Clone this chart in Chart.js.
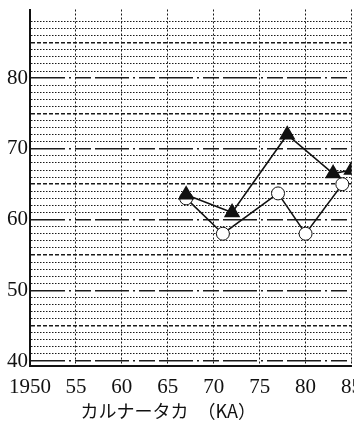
<!DOCTYPE html>
<html>
<head>
<meta charset="utf-8">
<script src="https://cdn.jsdelivr.net/npm/chart.js@4"></script>
<style>
html, body { margin: 0; padding: 0; background: #fff; overflow: hidden; }
#wrap { width: 361px; height: 427px; }
</style>
</head>
<body>
<div id="wrap"><canvas id="ka-chart" width="361" height="427"></canvas></div>
<script>
// values
const triangleYears = [1967, 1972, 1978, 1983, 1985]
const triangleValues = [63.5, 61, 72, 66.5, 67]
const circleYears = [1967, 1971, 1977, 1980, 1984]
const circleValues = [63, 58, 63.7, 58, 65]

const xTickYears = [1950, 1955, 1960, 1965, 1970, 1975, 1980, 1985]
const xTickLabels = ['1950', '55', '60', '65', '70', '75', '80', '85']
const yLabelValues = [40, 50, 60, 70, 80]
const yLabels = ['40', '50', '60', '70', '80']

const ka_chart = () => {
    const ctx = document.getElementById('ka-chart')
    const ink = '#111'
    const toPoints = (xs, ys) => xs.map((x, i) => ({ x: x, y: ys[i] }))

    // one gridline per unit, heavier every 5 and 10
    const yGrid = []
    for (let v = 40; v <= 88; v++) yGrid.push({ value: v })

    const gridDash = (c) => {
        if (!c.tick) return []
        const v = c.tick.value
        if (v % 10 === 0) return [34, 4, 2, 4, 16, 4]
        if (v % 5 === 0) return [4, 2]
        return [1.5, 1.5]
    }

    new Chart(ctx, {
        type: 'line',
        data: {
            datasets: [{
                data: toPoints(triangleYears, triangleValues),
                borderColor: ink,
                borderWidth: 1.5,
                pointStyle: 'triangle',
                pointRadius: 8,
                pointBackgroundColor: ink,
                pointBorderColor: ink,
            }, {
                data: toPoints(circleYears, circleValues),
                borderColor: ink,
                borderWidth: 1.5,
                pointStyle: 'circle',
                pointRadius: 6.5,
                pointBackgroundColor: '#fff',
                pointBorderColor: ink,
                pointBorderWidth: 1,
            }],
        },
        options: {
            responsive: false,
            animation: false,
            layout: { padding: { top: 3, right: 2, left: 0, bottom: 0 } },
            plugins: { legend: { display: false }, tooltip: { enabled: false } },
            scales: {
                x: {
                    type: 'linear',
                    min: 1950,
                    max: 1985,
                    afterBuildTicks: s => { s.ticks = xTickYears.map(v => ({ value: v })) },
                    afterFit: s => { s.height = 61; s.paddingLeft = 0; s.paddingRight = 0 },
                    grid: {
                        color: c => (c.tick && c.tick.value === 1950) ? 'rgba(0,0,0,0)' : '#1a1a1a',
                        lineWidth: 1,
                        drawTicks: false,
                    },
                    border: { color: ink, width: 2, dash: [2, 2] },
                    ticks: {
                        autoSkip: false,
                        maxRotation: 0,
                        padding: 9,
                        color: ink,
                        font: { family: "'Liberation Serif'", size: 21 },
                        callback: v => xTickLabels[xTickYears.indexOf(v)],
                    },
                    title: {
                        display: true,
                        text: 'カルナータカ　（KA）　　　',
                        color: ink,
                        font: { family: "'Noto Sans CJK JP'", size: 18 },
                        padding: { top: 0, bottom: 5 },
                    },
                },
                y: {
                    min: 39.3,
                    max: 89.7,
                    afterBuildTicks: s => { s.ticks = yGrid.map(t => ({ value: t.value })) },
                    afterFit: s => { s.width = 30; s.paddingTop = 0; s.paddingBottom = 0 },
                    grid: {
                        color: '#1a1a1a',
                        lineWidth: c => (c.tick && c.tick.value % 5 === 0) ? 1.5 : 1,
                        drawTicks: false,
                    },
                    border: { color: ink, width: 2, dash: gridDash },
                    ticks: {
                        autoSkip: false,
                        padding: 2,
                        color: ink,
                        font: { family: "'Liberation Serif'", size: 21 },
                        callback: v => {
                            const i = yLabelValues.indexOf(v)
                            return i >= 0 ? yLabels[i] : ''
                        },
                    },
                },
            },
        },
    })
}

ka_chart()
</script>
</body>
</html>
